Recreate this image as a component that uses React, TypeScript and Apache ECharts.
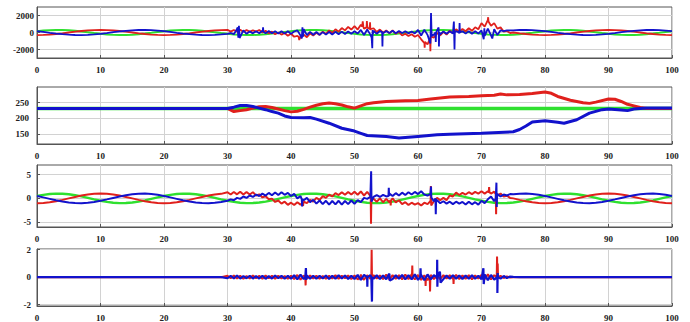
import React, { useEffect, useRef } from "react";
import * as echarts from "echarts";

// ---- time grids ----
const tPre = [0,1,2,3,4,5,6,7,8,9,10,11,12,13,14,15,16,17,18,19,20,21,22,23,24,25,26,27,28,29];
const tMid = [
  30,30.5,31,31.5,32,32.5,33,33.5,34,34.5,
  35,35.5,36,36.5,37,37.5,38,38.5,39,39.5,
  40,40.5,41,41.5,42,42.5,43,43.5,44,44.5,
  45,45.5,46,46.5,47,47.5,48,48.5,49,49.5,
  50,50.5,51,51.5,52,52.5,53,53.5,54,54.5,
  55,55.5,56,56.5,57,57.5,58,58.5,59,59.5,
  60,60.5,61,61.5,62,62.5,63,63.5,64,64.5,
  65,65.5,66,66.5,67,67.5,68,68.5,69,69.5,
  70,70.5,71,71.5,72,72.5,73,73.5,74,74.5,
  75,
];
const tPost = [76,77,78,79,80,81,82,83,84,85,86,87,88,89,90,91,92,93,94,95,96,97,98,99,100];
const tFull = [
  0,1,2,3,4,5,6,7,8,9,10,11,12,13,14,15,16,17,18,19,20,21,22,23,24,25,26,27,28,29,30,
  31,32,33,34,35,36,37,38,39,40,41,42,43,44,45,46,47,48,49,50,51,52,53,54,55,56,57,58,59,60,
  61,62,63,64,65,66,67,68,69,70,71,72,73,74,75,76,77,78,79,80,81,82,83,84,85,86,87,88,89,90,
  91,92,93,94,95,96,97,98,99,100,
];

const xTicks = { min: 0, max: 100, interval: 10 };

// ---- panel 1 ----
const p1Ticks = [-2000, 0, 2000];
const p1Green = [
  150,223,274,299,293,260,201,122,32,-62,-150,-223,-274,-299,-293,-260,-201,-122,-32,62,
  150,223,274,299,293,260,201,122,32,-62,-150,-223,-274,-299,-293,-260,-201,-122,-32,62,
  150,223,274,299,293,260,201,122,32,-62,-150,-223,-274,-299,-293,-260,-201,-122,-32,62,
  150,223,274,299,293,260,201,122,32,-62,-150,-223,-274,-299,-293,-260,-201,-122,-32,62,
  150,223,274,299,293,260,201,122,32,-62,-150,-223,-274,-299,-293,-260,-201,-122,-32,62,
  150,
];
const p1RedPre = [-300,-285,-243,-176,-93,0,93,176,243,285,300,285,243,176,93,0,-93,-176,-243,-285,-300,-285,-243,-176,-93,0,93,176,243,285];
const p1RedMid = [
  320,100,300,120,310,90,280,110,260,120,
  300,0,200,-100,100,-200,0,-250,-60,-380,
  -150,-500,-400,-650,-250,-550,-120,-350,-30,-280,
  100,-180,250,-60,380,100,520,250,650,350,
  750,350,900,450,800,300,500,50,350,-20,
  250,-100,250,-150,80,-350,-150,-420,-200,-500,
  -300,-800,-1100,-1400,-450,-600,-50,-350,80,-250,
  220,-100,380,80,420,150,500,200,620,380,
  1100,700,1500,800,1100,450,600,100,180,-60,
  0,
];
const p1RedPost = [-93,-176,-243,-285,-300,-285,-243,-176,-93,0,93,176,243,285,300,285,243,176,93,0,-93,-176,-243,-285,-300];
const p1RedSpikes = [
  [41.2,-500],[41.3,-900],[41.4,-500],
  [51.2,700],[51.3,1300],[51.4,650],[51.9,600],[51.95,1350],[52.05,550],[52.4,450],[52.45,1200],[52.55,400],
  [60.95,-1200],[61.05,-1800],[61.1,-1100],[61.9,-700],[61.95,-2200],[62.1,-500],
  [70.9,1300],[71.05,1800],[71.1,1300],
];
const p1BluePre = [150,62,-32,-122,-201,-260,-293,-299,-274,-223,-150,-62,32,122,201,260,293,299,274,223,150,62,-32,-122,-201,-260,-293,-299,-274,-223];
const p1BlueMid = [
  -150,-60,-200,400,-500,250,-150,120,-100,150,
  -80,200,-100,180,-80,160,-120,150,-130,140,
  -160,120,250,-350,400,-300,80,-260,60,-280,
  40,-250,60,-230,80,-200,100,-180,120,-150,
  150,-120,300,-300,350,-250,200,-150,180,-100,
  180,-50,200,-80,180,-60,150,-100,120,-120,
  300,-350,320,-280,220,-250,250,-200,120,-150,
  150,-120,160,-100,150,-130,140,-140,150,-120,
  250,-400,450,-350,400,-300,250,150,250,240,
  260,
];
const p1BluePost = [293,299,274,223,150,62,-32,-122,-201,-260,-293,-299,-274,-223,-150,-62,32,122,201,260,293,299,274,223,150];
const p1BlueSpikes = [
  [31.6,600],[31.7,-600],[31.8,800],[31.9,-650],
  [35.55,80],[35.6,600],[35.65,80],
  [41.7,-700],[41.8,600],[41.9,-500],
  [52.7,-600],[52.8,-1850],[52.85,300],[52.9,-200],
  [54.35,50],[54.4,-1650],[54.45,50],
  [61.95,-1300],[62.05,2300],[62.15,-400],
  [62.75,0],[62.8,-1100],[62.85,0],
  [63.25,600],[63.3,-1650],[63.35,0],
  [65.65,1300],[65.75,-2000],[65.8,0],
  [66.45,0],[66.55,1100],[66.6,0],
  [70.35,-800],[70.45,500],[71.7,-700],
];

// ---- panel 2 ----
const p2Ticks = [150, 200, 250];
const p2Green = [[0,232],[100,232]];
const p2Red = [
  [0,232],[30,232],[31,222],[32,225],[33,228],[34,233],[35,237],[36,238],[37,235],[38,230],[39,225],
  [40,221],[41,223],[42,229],[43,236],[44,242],[45,247],[46,249],[47,247],[48,243],[49,237],[50,233],
  [51,240],[52,247],[53,250],[55,254],[58,256],[60,257],[62,262],[65,268],[68,270],[70,272],[72,274],
  [73,278],[74,275],[76,276],[78,279],[80,284],[81,280],[82,270],[84,258],[86,250],[87,248],[88,252],
  [90,262],[91,261],[92,254],[93,245],[94,240],[95,235],[96,232],[100,232],
];
const p2Blue = [
  [0,232],[30,232],[31,236],[32,241],[33,241],[34,238],[35,233],[36,228],[37,222],[38,217],[39,208],
  [40,203],[42,202],[43,203],[44,198],[46,185],[48,169],[50,160],[51,153],[52,146],[55,143],[57,138],
  [60,143],[63,148],[65,150],[70,153],[75,158],[76,165],[77,176],[78,189],[80,193],[82,188],[83,185],
  [85,196],[87,217],[89,228],[90,230],[92,227],[93,225],[94,230],[96,233],[100,233],
];

// ---- panel 3 ----
const p3Ticks = [-5, 0, 5];
const p3Green = [
  .5,.74,.91,1,.98,.87,.67,.41,.1,-.21,-.5,-.74,-.91,-1,-.98,-.87,-.67,-.41,-.1,.21,
  .5,.74,.91,1,.98,.87,.67,.41,.1,-.21,-.5,-.74,-.91,-1,-.98,-.87,-.67,-.41,-.1,.21,
  .5,.74,.91,1,.98,.87,.67,.41,.1,-.21,-.5,-.74,-.91,-1,-.98,-.87,-.67,-.41,-.1,.21,
  .5,.74,.91,1,.98,.87,.67,.41,.1,-.21,-.5,-.74,-.91,-1,-.98,-.87,-.67,-.41,-.1,.21,
  .5,.74,.91,1,.98,.87,.67,.41,.1,-.21,-.5,-.74,-.91,-1,-.98,-.87,-.67,-.41,-.1,.21,
  .5,
];
const p3RedPre = [-1,-.95,-.81,-.59,-.31,0,.31,.59,.81,.95,1,.95,.81,.59,.31,0,-.31,-.59,-.81,-.95,-1,-.95,-.81,-.59,-.31,0,.31,.59,.81,.95];
const p3RedMid = [
  1.3,0.8,1.35,0.85,1.4,0.8,1.35,0.8,1.3,0.6,
  0.85,0.2,0.45,-0.2,-0.05,-0.75,-0.45,-1.1,-0.7,-1.35,
  -0.9,-1.4,-0.8,-1.3,-0.7,-1.0,-0.3,-0.7,0.1,-0.3,
  0.45,0.1,0.8,0.4,1.1,0.7,1.3,0.75,1.35,0.8,
  1.4,0.75,1.45,0.6,1.35,0.5,-0.1,-0.7,0,-0.8,
  -0.1,-0.8,0,-0.85,-0.4,-1.2,-0.8,-1.4,-0.9,-1.3,
  -1.0,-1.5,-0.9,-1.2,-0.2,-0.6,0.1,-0.4,0.1,-0.35,
  0.6,0.4,1.2,0.7,1.15,0.8,1.3,0.9,1.35,1.0,
  1.5,1.0,1.5,1.0,1.4,0.6,1.0,0.4,0.55,0.1,
  0,
];
const p3RedPost = [-.31,-.59,-.81,-.95,-1,-.95,-.81,-.59,-.31,0,.31,.59,.81,.95,1,.95,.81,.59,.31,0,-.31,-.59,-.81,-.95,-1];
const p3RedSpikes = [
  [41.85,-1.0],[41.9,-1.6],[41.95,-0.9],
  [52.55,0.9],[52.6,-5.3],[52.65,-0.2],
  [55.65,-0.4],[55.7,-1.5],[55.75,-0.4],
  [61.95,-0.6],[62.02,2.6],[62.08,-1.5],
  [71.15,1.3],[71.2,2.4],[71.25,1.3],
  [72.25,0.9],[72.3,-3.3],[72.35,1.0],
];
const p3BluePre = [.5,.21,-.1,-.41,-.67,-.87,-.98,-1,-.91,-.74,-.5,-.21,.1,.41,.67,.87,.98,1,.91,.74,.5,.21,-.1,-.41,-.67,-.87,-.98,-1,-.91,-.74];
const p3BlueMid = [
  -0.5,-0.2,-0.4,0.1,-0.1,0.4,0.1,0.6,0.3,0.8,
  0.5,1.0,0.6,1.15,0.65,1.25,0.7,1.3,0.75,1.15,
  0.5,0.95,0.0,0.5,-0.4,0.1,-0.8,-0.3,-1.1,-0.45,
  -1.2,-0.5,-1.3,-0.55,-1.25,-0.5,-1.3,-0.55,-1.2,-0.45,
  -1.15,-0.35,-0.8,0.1,-0.1,0.3,0.3,0.7,0.3,0.75,
  0.4,1.0,0.5,1.1,0.6,1.2,0.7,1.3,0.8,1.35,
  0.9,1.5,0.8,0.6,1.0,-0.6,-0.4,-1.0,-0.6,-1.1,
  -0.7,-1.2,-0.7,-1.1,-0.75,-1.3,-0.7,-1.25,-0.8,-1.3,
  -0.5,-1.0,-0.2,0.4,-0.6,0.9,0.4,0.8,0.6,0.9,
  0.87,
];
const p3BluePost = [.98,1,.91,.74,.5,.21,-.1,-.41,-.67,-.87,-.98,-1,-.91,-.74,-.5,-.21,.1,.41,.67,.87,.98,1,.91,.74,.5];
const p3BlueSpikes = [
  [41.7,-0.2],[41.75,-1.7],[41.8,-0.2],
  [52.55,0.3],[52.62,5.7],[52.68,-0.7],
  [55.35,0.5],[55.4,2.2],[55.45,0.5],
  [61.95,0.9],[62.05,2.5],[62.1,0.2],
  [62.75,0],[62.8,-3.3],[62.85,-0.3],
  [72.25,0],[72.35,3.3],[72.4,-1.8],[72.45,0.5],
];

// ---- panel 4 ----
const p4Ticks = [-2, 0, 2];
const p4RedPre = [0,0,0,0,0,0,0,0,0,0,0,0,0,0,0,0,0,0,0,0,0,0,0,0,0,0,0,0,0,0];
const p4RedMid = [
  0.1,-0.08,0.12,-0.1,0.1,-0.12,0.08,-0.1,0.12,-0.08,
  0.1,-0.12,0.12,-0.08,0.1,-0.12,0.1,-0.1,0.08,-0.12,
  0.1,-0.14,0.16,-0.18,0.12,-0.1,0.12,-0.1,0.1,-0.12,
  0.08,-0.12,0.1,-0.1,0.14,-0.12,0.1,-0.08,0.12,-0.14,
  0.12,-0.16,0.2,-0.18,0.14,-0.12,0.14,-0.1,0.12,-0.14,
  0.18,-0.16,0.14,-0.12,0.14,-0.16,0.18,-0.14,0.2,-0.16,
  0.16,-0.2,0.14,-0.22,0.16,-0.14,0.12,-0.14,0.14,-0.1,
  0.14,-0.12,0.16,-0.14,0.12,-0.12,0.14,-0.16,0.12,-0.1,
  0.16,-0.14,0.2,-0.16,0.14,-0.15,0.1,-0.06,0.05,-0.03,
  0,
];
const p4RedPost = [0,0,0,0,0,0,0,0,0,0,0,0,0,0,0,0,0,0,0,0,0,0,0,0,0];
const p4RedSpikes = [
  [42.25,0],[42.3,-0.6],[42.35,0],
  [50.95,0],[51.0,0.25],[51.05,0],
  [52.65,0],[52.7,2.0],[52.75,0],
  [59.05,0],[59.1,0.85],[59.15,0],
  [61.15,0],[61.2,-0.65],[61.25,0],
  [61.85,0],[61.9,-1.05],[61.95,0],
  [65.55,0],[65.6,-0.5],[65.65,0],
  [72.4,0],[72.45,1.5],[72.55,1.0],[72.6,0],
];
const p4BluePre = [0,0,0,0,0,0,0,0,0,0,0,0,0,0,0,0,0,0,0,0,0,0,0,0,0,0,0,0,0,0];
const p4BlueMid = [
  -0.08,0.1,-0.1,0.12,-0.1,0.08,-0.08,0.1,-0.1,0.08,
  -0.1,0.1,-0.12,0.08,-0.1,0.12,-0.08,0.1,-0.12,0.1,
  -0.12,0.14,-0.16,0.18,-0.14,0.12,-0.12,0.1,-0.12,0.1,
  -0.1,0.12,-0.14,0.1,-0.12,0.14,-0.1,0.12,-0.14,0.1,
  -0.14,0.16,-0.2,0.16,-0.22,0.14,-0.12,0.14,-0.14,0.12,
  -0.16,0.2,-0.14,0.14,-0.12,0.16,-0.16,0.14,-0.16,0.2,
  -0.2,0.16,-0.22,0.2,-0.16,0.14,-0.14,0.12,-0.14,0.12,
  -0.12,0.14,-0.12,0.12,-0.14,0.12,-0.12,0.14,-0.12,0.1,
  -0.16,0.2,-0.22,0.16,-0.18,0.14,-0.1,0.08,-0.06,0.04,
  0.02,
];
const p4BluePost = [0,0,0,0,0,0,0,0,0,0,0,0,0,0,0,0,0,0,0,0,0,0,0,0,0];
const p4BlueSpikes = [
  [42.25,0],[42.35,0.67],[42.4,-0.2],[42.45,0],
  [51.95,0],[52.02,-0.7],[52.05,0],
  [52.65,0],[52.75,-1.78],[52.8,0],
  [55.45,0.25],[55.55,-0.25],
  [60.35,0],[60.4,0.65],[60.45,0],
  [62.95,0],[63.02,1.26],[63.05,-0.7],[63.1,0],
  [63.45,0.4],[63.55,-0.4],
  [70.3,0.65],[70.35,-0.5],
  [72.45,0],[72.5,-1.15],[72.55,0.3],[72.6,0],
];

const RED = "#e0201c";
const BLUE = "#1212cc";
const GREEN = "#2fe02f";

function zip(ts: number[], vs: number[]) {
  const n = Math.min(ts.length, vs.length);
  const out: number[][] = [];
  for (let i = 0; i < n; i++) out.push([ts[i], vs[i]]);
  return out;
}
function build(pre: number[], mid: number[], post: number[], spikes: number[][]) {
  return [...zip(tPre, pre), ...zip(tMid, mid), ...zip(tPost, post), ...spikes].sort((a, b) => a[0] - b[0]);
}

const font = { fontFamily: "Liberation Serif", fontWeight: "bold" as const, fontSize: 9, color: "#222" };

const grids = [
  { top: 7, height: 51 },
  { top: 87, height: 57 },
  { top: 165, height: 62 },
  { top: 249, height: 57 },
];
const yRanges = [
  { min: -3000, max: 3000, ticks: p1Ticks, margin: 3 },
  { min: 119, max: 300, ticks: p2Ticks, margin: 8 },
  { min: -6, max: 7, ticks: p3Ticks, margin: 6 },
  { min: -2.1, max: 2.05, ticks: p4Ticks, margin: 6 },
];

export default function App() {
  const ref = useRef<HTMLDivElement>(null);
  useEffect(() => {
    if (!ref.current) return;
    const chart = echarts.init(ref.current, undefined, { renderer: "svg" });
    const line = (idx: number, data: any, color: string, width: number) => ({
      type: "line",
      xAxisIndex: idx,
      yAxisIndex: idx,
      data,
      showSymbol: false,
      symbol: "none",
      lineStyle: { color, width },
      itemStyle: { color },
      silent: true,
      clip: true,
    });
    chart.setOption({
      animation: false,
      backgroundColor: "#fff",
      grid: grids.map((g) => ({
        left: 37,
        right: 18,
        top: g.top,
        height: g.height,
        show: true,
        borderColor: "#555",
        borderWidth: 1,
        backgroundColor: "#fff",
      })),
      xAxis: grids.map((_, i) => ({
        type: "value",
        gridIndex: i,
        ...xTicks,
        axisLine: { show: true, onZero: false, lineStyle: { color: "#555" } },
        axisTick: { show: true, inside: true, length: 3, lineStyle: { color: "#555" } },
        axisLabel: { ...font, margin: 7, formatter: (v: number) => String(v) },
        splitLine: { show: true, lineStyle: { color: "#d2d2d2", width: 1 } },
      })),
      yAxis: yRanges.map((r, i) => ({
        type: "value",
        gridIndex: i,
        min: r.min,
        max: r.max,
        axisLine: { show: true, onZero: false, lineStyle: { color: "#555" } },
        axisTick: { show: true, inside: true, length: 3, customValues: r.ticks, lineStyle: { color: "#555" } },
        axisLabel: { ...font, margin: r.margin, customValues: r.ticks, formatter: (v: number) => String(v) },
        splitLine: { show: true, lineStyle: { color: "#d2d2d2", width: 1 } },
      })),
      series: [
        line(0, zip(tFull, p1Green), GREEN, 2),
        line(0, build(p1RedPre, p1RedMid, p1RedPost, p1RedSpikes), RED, 1.8),
        line(0, build(p1BluePre, p1BlueMid, p1BluePost, p1BlueSpikes), BLUE, 1.8),
        line(1, p2Green, GREEN, 3.5),
        line(1, p2Red, RED, 3),
        line(1, p2Blue, BLUE, 3),
        line(2, zip(tFull, p3Green), GREEN, 2.4),
        line(2, build(p3RedPre, p3RedMid, p3RedPost, p3RedSpikes), RED, 2),
        line(2, build(p3BluePre, p3BlueMid, p3BluePost, p3BlueSpikes), BLUE, 2),
        line(3, build(p4RedPre, p4RedMid, p4RedPost, p4RedSpikes), RED, 2),
        line(3, build(p4BluePre, p4BlueMid, p4BluePost, p4BlueSpikes), BLUE, 2.2),
      ],
    });
    return () => chart.dispose();
  }, []);
  return (
    <div
      ref={ref}
      style={{ position: "fixed", left: 0, top: 0, width: 690, height: 322, background: "#fff" }}
    />
  );
}
